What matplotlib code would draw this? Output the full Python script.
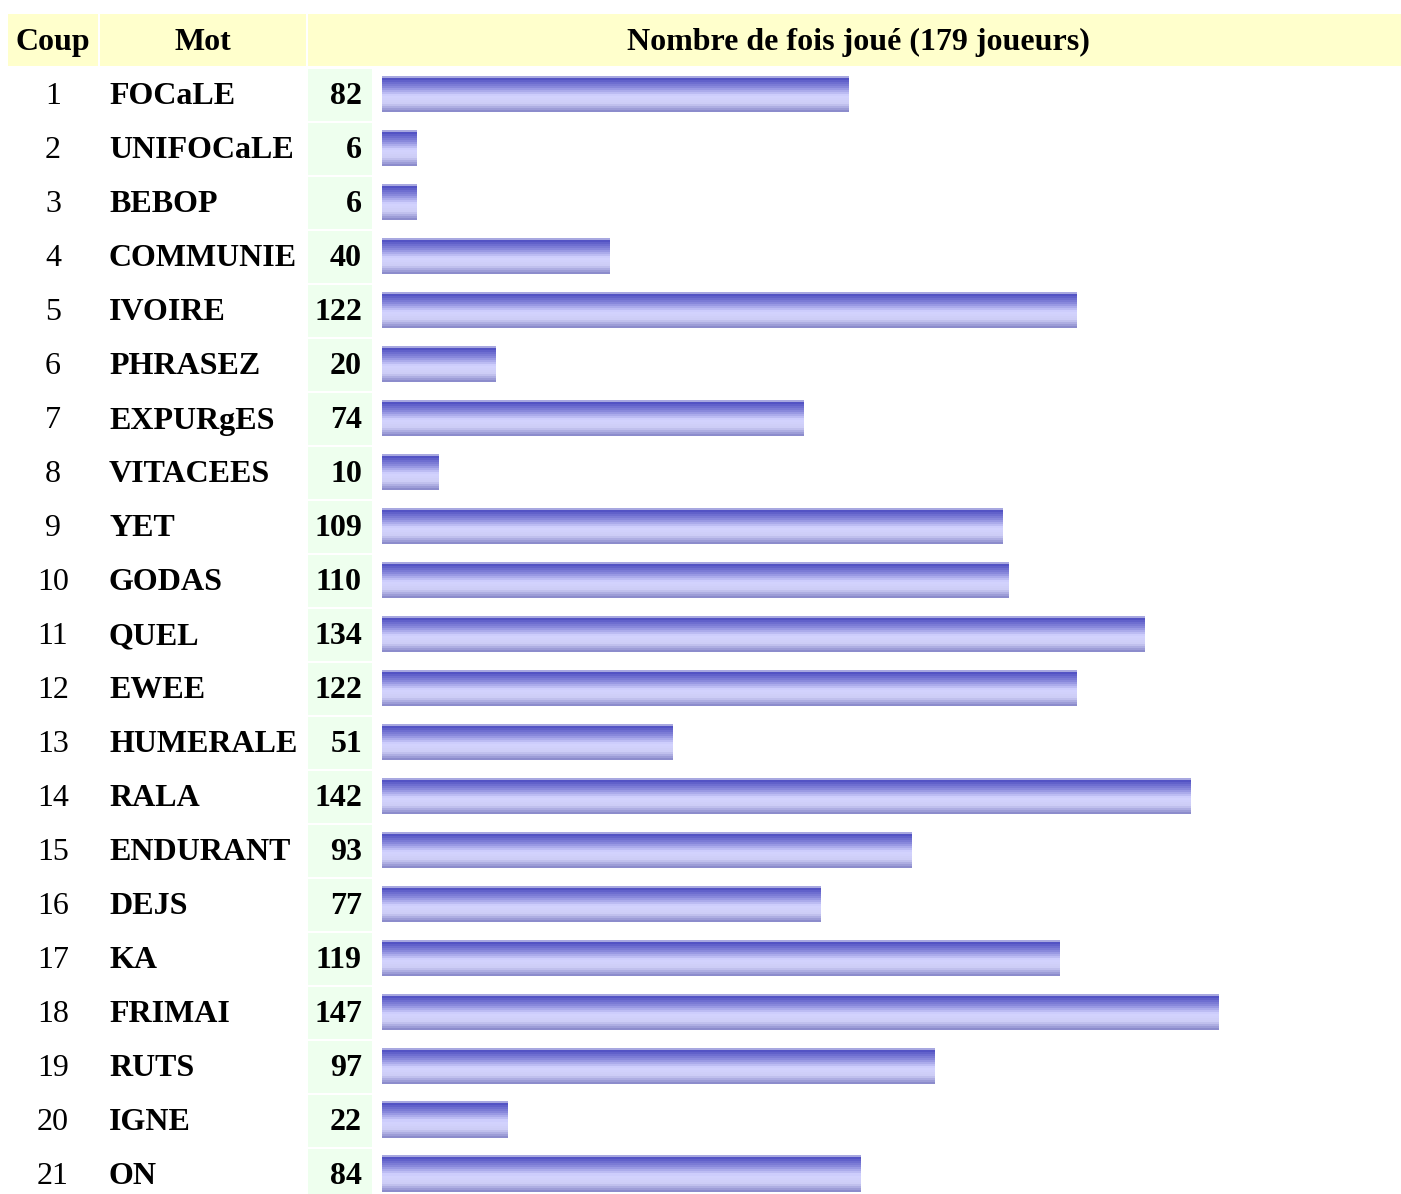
import matplotlib

matplotlib.use("Agg")

import matplotlib.pyplot as plt
import numpy as np
from matplotlib.colors import LinearSegmentedColormap
from matplotlib.patches import Rectangle

coups = list(range(1, 22))
mots = [
    "FOCaLE", "UNIFOCaLE", "BEBOP", "COMMUNIE", "IVOIRE", "PHRASEZ", "EXPURgES",
    "VITACEES", "YET", "GODAS", "QUEL", "EWEE", "HUMERALE", "RALA", "ENDURANT",
    "DEJS", "KA", "FRIMAI", "RUTS", "IGNE", "ON",
]
counts = [82, 6, 6, 40, 122, 20, 74, 10, 109, 110, 134, 122, 51, 142, 93, 77, 119, 147, 97, 22, 84]
n_joueurs = 179

W, H = 1401, 1194
ROW_TOP, ROW_H = 67, 54
FONT = "Liberation Serif"
FS = 23

fig = plt.figure(figsize=(W / 100, H / 100), dpi=100)
fig.patch.set_facecolor("white")

# table layer in pixel coordinates
tab = fig.add_axes([0, 0, 1, 1])
tab.set_xlim(0, W)
tab.set_ylim(H, 0)
tab.axis("off")

header_fill = "#ffffcc"
green_fill = "#eeffee"
for x0, x1 in [(8, 98), (100, 306), (308, 1401)]:
    tab.add_patch(Rectangle((x0, 14), x1 - x0, 52, facecolor=header_fill, edgecolor="none"))
hdr_base = 50
tab.text(53, hdr_base, "Coup", ha="center", va="baseline", fontsize=FS, fontweight="bold", family=FONT)
tab.text(203, hdr_base, "Mot", ha="center", va="baseline", fontsize=FS, fontweight="bold", family=FONT)
tab.text(858, hdr_base, f"Nombre de fois joué ({n_joueurs} joueurs)", ha="center", va="baseline",
         fontsize=FS, fontweight="bold", family=FONT)

for i, (c, m, n) in enumerate(zip(coups, mots, counts)):
    top = ROW_TOP + ROW_H * i
    base = top + 37.5
    tab.add_patch(Rectangle((308, top + 1.5), 64, ROW_H - 2, facecolor=green_fill, edgecolor="none"))
    tab.text(53, base, str(c), ha="center", va="baseline", fontsize=FS, family=FONT)
    tab.text(109, base, m, ha="left", va="baseline", fontsize=FS, fontweight="bold", family=FONT)
    tab.text(362, base, str(n), ha="right", va="baseline", fontsize=FS, fontweight="bold", family=FONT)

# bar layer in data coordinates (full width = number of players)
bar_left, bar_w_px = 382, 1019
bar_ax = fig.add_axes([bar_left / W, 0, bar_w_px / W, (H - ROW_TOP) / H])
bar_ax.axis("off")
bar_ax.patch.set_alpha(0)

grad = LinearSegmentedColormap.from_list(
    "bar",
    [(0.0, "#a8a8e0"), (0.05, "#5252c4"), (0.3, "#8a8adc"), (0.55, "#d4d4ff"),
     (0.78, "#cdcdf6"), (1.0, "#8c8ccc")],
)
g = np.linspace(0, 1, 18).reshape(-1, 1)
bars = bar_ax.barh(range(len(counts)), counts, height=36 / ROW_H, color="none")
for b in bars:
    x0, y0 = b.get_x(), b.get_y()
    bar_ax.imshow(g, cmap=grad, aspect="auto", interpolation="nearest",
                  extent=[x0, x0 + b.get_width(), y0 + b.get_height(), y0],
                  clip_path=b, clip_on=True)

bar_ax.set_xlim(0, n_joueurs)
bar_ax.set_ylim((H - ROW_TOP) / ROW_H - 0.5, -0.5)

fig.savefig("out.png", dpi=100)
